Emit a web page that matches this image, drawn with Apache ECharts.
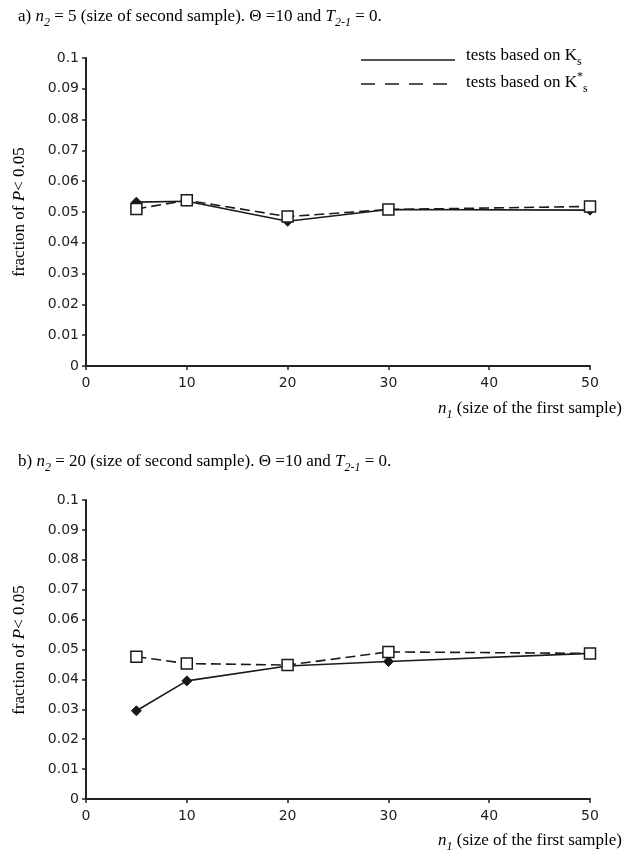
<!DOCTYPE html>
<html>
<head>
<meta charset="utf-8">
<script src="https://cdn.jsdelivr.net/npm/echarts@6/dist/echarts.min.js"></script>
<style>
html,body{margin:0;padding:0;background:#fff;}
#c{width:626px;height:854px;}
</style>
</head>
<body>
<div id="c"></div>
<script>
// x values (n1, size of the first sample)
var n1 = [5, 10, 20, 30, 50];
// a) n2 = 5
var ksA     = [0.0532, 0.0535, 0.0470, 0.0508, 0.0506];
var ksStarA = [0.0510, 0.0538, 0.0485, 0.0508, 0.0518];
// b) n2 = 20
var ksB     = [0.0295, 0.0395, 0.0445, 0.0460, 0.0487];
var ksStarB = [0.0476, 0.0453, 0.0448, 0.0492, 0.0487];
// axis ticks
var xTicks = [0, 10, 20, 30, 40, 50];
var yTicks = [0, 0.01, 0.02, 0.03, 0.04, 0.05, 0.06, 0.07, 0.08, 0.09, 0.1];

function pairs(xs, ys){ return xs.map(function(x,i){ return [x, ys[i]]; }); }

var SERIF = '"Liberation Serif","Times New Roman",serif';
var SANS = '"DejaVu Sans",Verdana,sans-serif';
var INK = '#1a1a1a';

var richBase = {
  t: {fontFamily: SERIF, fontSize: 17, lineHeight: 24, verticalAlign: 'middle', color: '#000'},
  i: {fontFamily: SERIF, fontSize: 17, fontStyle: 'italic', lineHeight: 24, verticalAlign: 'middle', color: '#000'},
  sub: {fontFamily: SERIF, fontSize: 12, lineHeight: 12, verticalAlign: 'bottom', color: '#000'},
  isub: {fontFamily: SERIF, fontSize: 12, fontStyle: 'italic', lineHeight: 12, verticalAlign: 'bottom', color: '#000'},
  sup: {fontFamily: SERIF, fontSize: 12, lineHeight: 12, verticalAlign: 'top', color: '#000'}
};

function xAxisCfg(grid){
  return {
    type: 'value', gridIndex: grid, min: 0, max: 50, interval: 10,
    axisLine: {show: true, onZero: false, lineStyle: {color: '#222', width: 2}},
    axisTick: {show: true, inside: false, length: 4, lineStyle: {color: '#222', width: 1.5}},
    axisLabel: {fontFamily: SANS, fontSize: 14, color: '#222', margin: 10},
    splitLine: {show: false}
  };
}
function yAxisCfg(grid){
  return {
    type: 'value', gridIndex: grid, min: 0, max: 0.1, interval: 0.01,
    axisLine: {show: true, onZero: false, lineStyle: {color: '#222', width: 2}},
    axisTick: {show: true, inside: false, length: 4, lineStyle: {color: '#222', width: 1.5}},
    axisLabel: {fontFamily: SANS, fontSize: 14, color: '#222', margin: 7,
      formatter: function(v){ if (Math.abs(v) < 1e-9) return '0'; if (Math.abs(v-0.1) < 1e-9) return '0.1'; return v.toFixed(2); }},
    splitLine: {show: false}
  };
}
function solidSeries(data, xi){
  return {
    type: 'line', xAxisIndex: xi, yAxisIndex: xi, data: data,
    symbol: 'diamond', symbolSize: 10, showSymbol: true,
    lineStyle: {color: INK, width: 1.6, type: 'solid'},
    itemStyle: {color: INK, borderColor: INK, borderWidth: 1},
    z: 2, animation: false
  };
}
function dashSeries(data, xi){
  return {
    type: 'line', xAxisIndex: xi, yAxisIndex: xi, data: data,
    symbol: 'rect', symbolSize: 11, showSymbol: true,
    lineStyle: {color: INK, width: 1.6, type: [10, 5]},
    itemStyle: {color: '#fff', borderColor: INK, borderWidth: 1.5},
    z: 3, animation: false
  };
}

var chart = echarts.init(document.getElementById('c'), null, {renderer: 'canvas'});

var xName = '{i|n}{isub|1}{t| (size of the first sample)}';

chart.setOption({
  backgroundColor: '#fff',
  animation: false,
  grid: [
    {left: 86, top: 58, width: 504, height: 308},
    {left: 86, top: 500, width: 504, height: 299}
  ],
  xAxis: [xAxisCfg(0), xAxisCfg(1)],
  yAxis: [yAxisCfg(0), yAxisCfg(1)],
  series: [
    solidSeries(pairs(n1, ksA), 0),
    dashSeries(pairs(n1, ksStarA), 0),
    solidSeries(pairs(n1, ksB), 1),
    dashSeries(pairs(n1, ksStarB), 1)
  ],
  graphic: [
    // titles
    {type: 'text', left: 18, top: 8, style: {text: '{t|a) }{i|n}{isub|2}{t| = 5 (size of second sample). Θ =10 and }{i|T}{isub|2-1}{t| = 0.}', rich: richBase}},
    {type: 'text', left: 18, top: 453, style: {text: '{t|b) }{i|n}{isub|2}{t| = 20 (size of second sample). Θ =10 and }{i|T}{isub|2-1}{t| = 0.}', rich: richBase}},
    // y-axis names
    {type: 'text', x: 20, y: 212, rotation: Math.PI/2, style: {text: '{t|fraction of }{i|P}{t|< 0.05}', rich: richBase, align: 'center', verticalAlign: 'middle'}},
    {type: 'text', x: 20, y: 650, rotation: Math.PI/2, style: {text: '{t|fraction of }{i|P}{t|< 0.05}', rich: richBase, align: 'center', verticalAlign: 'middle'}},
    // x-axis names
    {type: 'text', right: 4, top: 400, style: {text: xName, rich: richBase}},
    {type: 'text', right: 4, top: 832, style: {text: xName, rich: richBase}},
    // legend
    {type: 'line', shape: {x1: 361, y1: 60, x2: 455, y2: 60}, style: {stroke: INK, lineWidth: 1.5}},
    {type: 'text', left: 466, top: 47, style: {text: '{t|tests based on K}{sub|s}', rich: richBase}},
    {type: 'line', shape: {x1: 361, y1: 84, x2: 455, y2: 84}, style: {stroke: INK, lineWidth: 1.5, lineDash: [14, 10]}},
    {type: 'text', left: 466, top: 71, style: {text: '{t|tests based on K}{sup|*}{sub|s}', rich: richBase}}
  ]
});
</script>
</body>
</html>
